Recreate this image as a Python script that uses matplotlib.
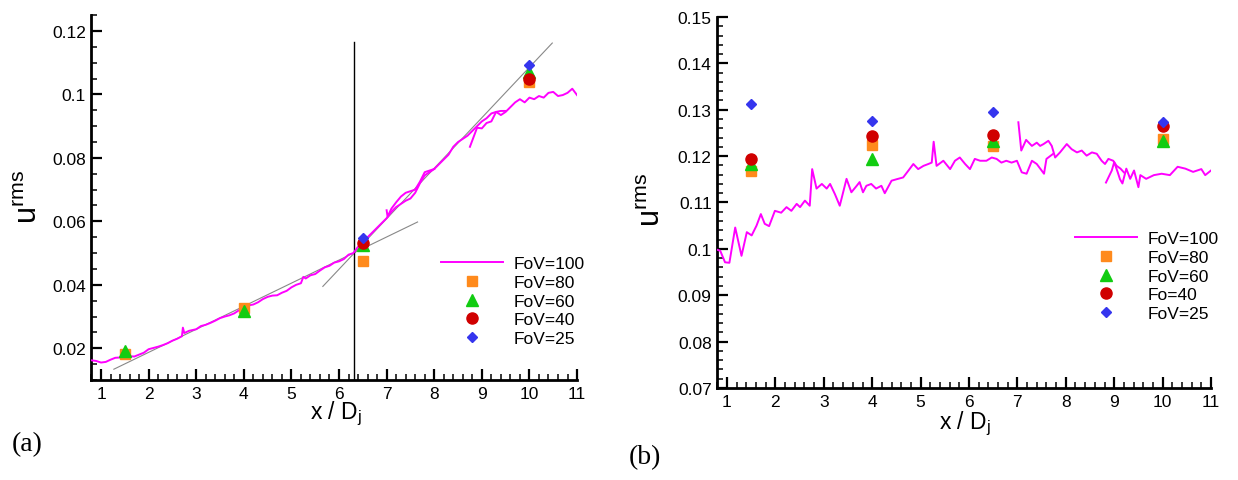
import numpy as np
import matplotlib
matplotlib.use("Agg")
import matplotlib.pyplot as plt
from matplotlib.ticker import MultipleLocator

plt.rcParams['font.family'] = ['Liberation Sans', 'DejaVu Sans']
plt.rcParams['mathtext.fontset'] = 'custom'
plt.rcParams['mathtext.rm'] = 'Liberation Sans'
plt.rcParams['mathtext.it'] = 'Liberation Sans:italic'

# ---------------- data: panel (a) ----------------
xs_pts = [1.5, 4.0, 6.5, 10.0]
a_fov80 = [0.0181, 0.0328, 0.0474, 0.1038]
a_fov60 = [0.0191, 0.0318, 0.0525, 0.1070]
a_fov40 = [np.nan, np.nan, 0.0533, 0.1049]
a_fov25 = [np.nan, np.nan, 0.0549, 0.1094]

a_line_x = [0.8, 0.9, 1.0, 1.1, 1.2, 1.3, 1.4, 1.5, 1.6, 1.7, 1.8, 1.9, 2.0, 2.1, 2.2, 2.3, 2.4,
            2.5, 2.6, 2.7, 2.72, 2.75, 2.85, 3.0, 3.1, 3.2, 3.3, 3.4, 3.5, 3.6, 3.7, 3.8, 3.9, 4.0,
            4.1, 4.2, 4.3, 4.4, 4.5, 4.6, 4.7, 4.8, 4.9, 5.0, 5.1, 5.2, 5.25, 5.3, 5.4, 5.5, 5.6,
            5.7, 5.8, 5.9, 6.0, 6.1, 6.2, 6.3, 6.4, 6.5, 6.6, 6.7, 6.8, 6.9, 7.0, 7.1, 7.2, 7.3,
            7.4, 7.5, 7.6, 7.7, 7.8, 7.9, 8.0, 8.1, 8.2, 8.3, 8.4, 8.5, 8.6, 8.7, 8.8, 8.9, 9.0,
            9.1, 9.2, 9.3, 9.4, 9.5, 9.6, 9.7, 9.8, 9.9, 10.0, 10.1, 10.2, 10.3, 10.4, 10.5, 10.6,
            10.7, 10.8, 10.9, 11.0]
a_line_y = [0.0162, 0.0160, 0.0155, 0.0157, 0.0164, 0.0170, 0.0171, 0.0173, 0.0175, 0.0174,
            0.0180, 0.0186, 0.0197, 0.0201, 0.0205, 0.0210, 0.0216, 0.0224, 0.0230, 0.0238,
            0.0265, 0.0248, 0.0255, 0.0260, 0.0270, 0.0274, 0.0280, 0.0287, 0.0295, 0.0300,
            0.0304, 0.0310, 0.0320, 0.0330, 0.0335, 0.0338, 0.0345, 0.0355, 0.0362, 0.0366,
            0.0367, 0.0375, 0.0381, 0.0392, 0.0400, 0.0405, 0.0425, 0.0420, 0.0430, 0.0434,
            0.0445, 0.0455, 0.0460, 0.0470, 0.0474, 0.0481, 0.0495, 0.0500, 0.0520, 0.0535,
            0.0550, 0.0565, 0.0580, 0.0595, 0.0610, 0.0630, 0.0645, 0.0655, 0.0665, 0.0672,
            0.0690, 0.0720, 0.0745, 0.0755, 0.0765, 0.0780, 0.0795, 0.0810, 0.0835, 0.0850,
            0.0860, 0.0870, 0.0885, 0.0900, 0.0915, 0.0925, 0.0940, 0.0945, 0.0935, 0.0945,
            0.0960, 0.0975, 0.0985, 0.0975, 0.0990, 0.0985, 0.0995, 0.0990, 0.1005, 0.1008,
            0.0995, 0.0998, 0.1005, 0.1018, 0.0998]
a_seg2_x = [7.0, 7.02, 7.1, 7.2, 7.3, 7.4, 7.5, 7.6, 7.7, 7.8, 7.9, 8.0]
a_seg2_y = [0.0635, 0.0615, 0.0640, 0.0660, 0.0678, 0.0690, 0.0695, 0.0700, 0.0725, 0.0755,
            0.0760, 0.0765]
a_seg3_x = [8.75, 8.8, 8.9, 9.0, 9.1, 9.2, 9.3, 9.4, 9.5]
a_seg3_y = [0.0835, 0.0855, 0.0895, 0.0893, 0.0910, 0.0915, 0.0945, 0.0948, 0.0948]

# tangent lines and the transition marker (data units)
a_tan1_x = [1.27, 7.65]
a_tan1_y = [0.0134, 0.0598]
a_tan2_x = [5.66, 10.48]
a_tan2_y = [0.0395, 0.1162]
a_vline_x = 6.32
a_vline_ytop = 0.1166

# ---------------- data: panel (b) ----------------
b_fov80 = [0.1167, 0.1225, 0.1221, 0.1236]
b_fov60 = [0.1182, 0.1193, 0.1232, 0.1232]
b_fov40 = [0.1193, 0.1243, 0.1246, 0.1265]
b_fov25 = [0.1313, 0.1276, 0.1295, 0.1274]

b_line_x = [0.8, 0.86, 0.96, 1.05, 1.17, 1.30, 1.41, 1.51, 1.61, 1.70, 1.78, 1.87, 1.99, 2.12,
            2.23, 2.33, 2.44, 2.51, 2.61, 2.71, 2.76, 2.85, 2.96, 3.06, 3.13, 3.23, 3.33, 3.47,
            3.57, 3.68, 3.74, 3.81, 3.88, 3.98, 4.08, 4.19, 4.26, 4.40, 4.50, 4.64, 4.75, 4.85,
            4.95, 5.06, 5.16, 5.23, 5.27, 5.33, 5.47, 5.61, 5.71, 5.81, 5.92, 6.02, 6.12, 6.23,
            6.36, 6.47, 6.57, 6.67, 6.77, 6.88, 6.99, 7.09, 7.19, 7.30, 7.40, 7.55, 7.60, 7.74]
b_line_y = [0.0998, 0.0996, 0.0971, 0.0970, 0.1046, 0.0985, 0.1036, 0.1029, 0.1050, 0.1075,
            0.1054, 0.1049, 0.1082, 0.1078, 0.1090, 0.1082, 0.1097, 0.1090, 0.1104, 0.1093,
            0.1172, 0.1130, 0.1140, 0.1130, 0.1140, 0.1118, 0.1093, 0.1151, 0.1122, 0.1136,
            0.1144, 0.1122, 0.1136, 0.1140, 0.1130, 0.1136, 0.1120, 0.1147, 0.1150, 0.1154,
            0.1169, 0.1183, 0.1172, 0.1179, 0.1183, 0.1186, 0.1231, 0.1179, 0.1190, 0.1172,
            0.1190, 0.1197, 0.1183, 0.1172, 0.1194, 0.1190, 0.1190, 0.1197, 0.1194, 0.1186,
            0.1190, 0.1186, 0.1190, 0.1165, 0.1162, 0.1190, 0.1183, 0.1162, 0.1194, 0.1205]
b_seg2_x = [7.02, 7.08, 7.18, 7.30, 7.40, 7.47, 7.54, 7.64, 7.71, 7.78, 7.88, 8.02, 8.12, 8.23,
            8.33, 8.43, 8.54, 8.64, 8.74, 8.81, 8.88, 8.98, 9.05, 9.13, 9.20]
b_seg2_y = [0.1273, 0.1212, 0.1235, 0.1222, 0.1229, 0.1222, 0.1226, 0.1233, 0.1222, 0.1197,
            0.1208, 0.1226, 0.1215, 0.1208, 0.1212, 0.1201, 0.1208, 0.1205, 0.1190, 0.1183,
            0.1194, 0.1190, 0.1179, 0.1173, 0.1165]
b_seg3_x = [8.83, 8.95, 9.00, 9.07, 9.12, 9.17, 9.25, 9.33, 9.41, 9.50, 9.54, 9.66, 9.82, 9.98,
            10.15, 10.31, 10.47, 10.63, 10.80, 10.88, 11.0]
b_seg3_y = [0.1143, 0.1169, 0.1187, 0.1166, 0.1150, 0.1141, 0.1173, 0.1151, 0.1169, 0.1133,
            0.1159, 0.1151, 0.1159, 0.1162, 0.1159, 0.1177, 0.1173, 0.1166, 0.1172, 0.1159,
            0.1169]

x_ticks = [1, 2, 3, 4, 5, 6, 7, 8, 9, 10, 11]
a_yticks = [0.02, 0.04, 0.06, 0.08, 0.10, 0.12]
a_yticklabels = ['0.02', '0.04', '0.06', '0.08', '0.1', '0.12']
b_yticks = [0.07, 0.08, 0.09, 0.10, 0.11, 0.12, 0.13, 0.14, 0.15]
b_yticklabels = ['0.07', '0.08', '0.09', '0.1', '0.11', '0.12', '0.13', '0.14', '0.15']

a_labels = ['FoV=100', 'FoV=80', 'FoV=60', 'FoV=40', 'FoV=25']
b_labels = ['FoV=100', 'FoV=80', 'FoV=60', 'Fo=40', 'FoV=25']

MAG = '#ff00ff'
ORANGE = '#ff8a1c'
GREEN = '#11cc11'
RED = '#d00000'
BLUE = '#3535ee'

fig = plt.figure(figsize=(12.38, 4.81), dpi=100)
axA = fig.add_axes([0.0739, 0.2079, 0.3922, 0.7586])
axB = fig.add_axes([0.5794, 0.1913, 0.3988, 0.7713])


def style(ax, yticks, ylabels, yminor, ylim):
    ax.set_xlim(0.8, 11)
    ax.set_ylim(*ylim)
    ax.set_xticks(x_ticks)
    ax.set_xticklabels([str(t) for t in x_ticks])
    ax.set_yticks(yticks)
    ax.set_yticklabels(ylabels)
    ax.xaxis.set_minor_locator(MultipleLocator(0.2))
    ax.yaxis.set_minor_locator(MultipleLocator(yminor))
    for s in ['top', 'right']:
        ax.spines[s].set_visible(False)
    for s in ['left', 'bottom']:
        ax.spines[s].set_linewidth(2.0)
    ax.tick_params(which='major', direction='in', length=8, width=1.6,
                   labelsize=12.5, pad=4, colors='black')
    ax.tick_params(which='minor', direction='in', length=4.5, width=1.1)


def draw(ax, segs, f80, f60, f40, f25, labels, leg_anchor):
    h_line = None
    for sx, sy in segs:
        h, = ax.plot(sx, sy, color=MAG, lw=1.4, zorder=3)
        if h_line is None:
            h_line = h
    h80, = ax.plot(xs_pts, f80, ls='none', marker='s', ms=7.5, color=ORANGE, zorder=5)
    h60, = ax.plot(xs_pts, f60, ls='none', marker='^', ms=8, color=GREEN, zorder=6)
    h40, = ax.plot(xs_pts, f40, ls='none', marker='o', ms=8, color=RED, zorder=7)
    h25, = ax.plot(xs_pts, f25, ls='none', marker='D', ms=5.5, color=BLUE, zorder=8)
    leg = fig.legend([h_line, h80, h60, h40, h25], labels, loc='upper left',
                     bbox_to_anchor=leg_anchor, frameon=False, fontsize=12.5,
                     handlelength=3.6, handletextpad=0.6, labelspacing=0.21,
                     borderpad=0, borderaxespad=0)
    return leg


style(axA, a_yticks, a_yticklabels, 0.005, (0.01, 0.125))
axA.plot(a_tan1_x, a_tan1_y, color='#888888', lw=0.8, zorder=2)
axA.plot(a_tan2_x, a_tan2_y, color='#888888', lw=0.8, zorder=2)
axA.plot([a_vline_x, a_vline_x], [0.01, a_vline_ytop], color='black', lw=1.0, zorder=2)
draw(axA, [(a_line_x, a_line_y), (a_seg2_x, a_seg2_y), (a_seg3_x, a_seg3_y)],
     a_fov80, a_fov60, a_fov40, a_fov25, a_labels, (0.356, 0.466))

style(axB, b_yticks, b_yticklabels, 0.002, (0.07, 0.15))
draw(axB, [(b_line_x, b_line_y), (b_seg2_x, b_seg2_y), (b_seg3_x, b_seg3_y)],
     b_fov80, b_fov60, b_fov40, b_fov25, b_labels, (0.868, 0.518))

# axis labels
ylab = r'u$^{\rm rms}$'
fig.text(29 / 1238, 1 - 197 / 481, ylab, rotation=90, ha='center', va='center', fontsize=22)
fig.text(652 / 1238, 1 - 200 / 481, ylab, rotation=90, ha='center', va='center', fontsize=22)
xlab = r'x / D$_{\rm j}$'
fig.text(336 / 1238, 1 - 414 / 481, xlab, ha='center', va='center', fontsize=16.5)
fig.text(965 / 1238, 1 - 424 / 481, xlab, ha='center', va='center', fontsize=16.5)

# panel tags
fig.text(27 / 1238, 1 - 445 / 481, '(a)', ha='center', va='center', fontsize=20,
         family=['Liberation Serif', 'DejaVu Serif'])
fig.text(645 / 1238, 1 - 458 / 481, '(b)', ha='center', va='center', fontsize=20,
         family=['Liberation Serif', 'DejaVu Serif'])

fig.savefig('out.png', dpi=100)
